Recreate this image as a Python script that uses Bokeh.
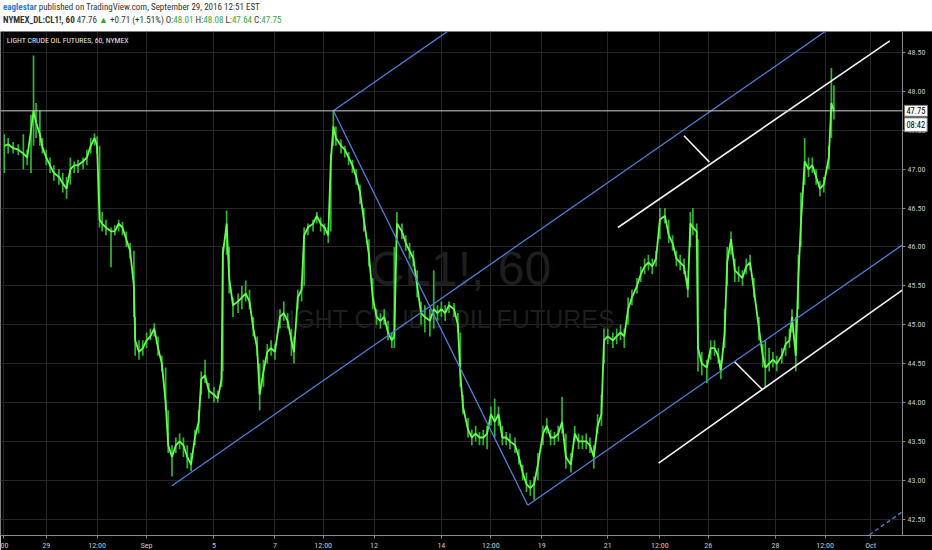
from bokeh.plotting import figure
from bokeh.models import FixedTicker, Span, Label, Div, Range1d, NumeralTickFormatter, BoxAnnotation
from bokeh.layouts import column
from bokeh.embed import file_html
from bokeh.resources import INLINE

# ---------------- data (hourly bar index, prices) ----------------
bar = [3, 6, 10, 14, 18, 21, 24, 26, 28, 31,
       33, 36, 39, 42, 46, 49, 52, 55, 58, 61,
       65, 68, 71, 74, 76, 78, 80, 83, 87, 90,
       93, 96, 99, 102, 105, 106, 109, 112, 115, 118,
       121, 124, 127, 130, 132, 135, 138, 141, 144, 147,
       150, 153, 156, 158, 161, 164, 168, 171, 174, 175,
       178, 180, 183, 187, 190, 193, 196, 199, 202, 204,
       207, 210, 213, 216, 220, 223, 226, 229, 231, 234,
       237, 239, 242, 246, 249, 252, 255, 258, 260, 262,
       264, 268, 271, 274, 277, 280, 283, 286, 290, 293,
       296, 299, 302, 305, 308, 310, 312, 316, 319, 322,
       325, 328, 331, 334, 338, 341, 344, 347, 350, 353,
       357, 360, 362, 364, 368, 371, 374, 377, 380, 383,
       386, 389, 392, 395, 398, 401, 405, 408, 411, 414,
       417, 420, 423, 427, 430, 433, 436, 439, 442, 445,
       449, 452, 455, 458, 461, 464, 467, 470, 473, 475,
       478, 482, 485, 488, 491, 494, 497, 501, 504, 507,
       510, 513, 516, 519, 523, 526, 529, 532, 535, 538,
       541, 543, 545, 548, 549, 552, 556, 559, 562, 565,
       567, 570, 572, 575, 578, 581, 584, 587, 590, 593,
       597, 600, 602, 605, 608, 611, 615, 618, 621, 623,
       626, 628, 630, 633, 636, 639, 642, 645, 648, 652,
       654, 656]

close = [47.30, 47.32, 47.27, 47.25, 47.20, 47.15, 47.50, 47.75, 47.60, 47.45,
         47.28, 47.15, 47.05, 46.95, 46.90, 46.82, 46.75, 47.00, 47.05, 47.05,
         47.10, 47.15, 47.30, 47.40, 47.30, 46.35, 46.30, 46.25, 46.20, 46.20,
         46.30, 46.25, 46.10, 45.95, 45.50, 44.80, 44.65, 44.70, 44.80, 44.85,
         44.95, 44.70, 44.50, 44.00, 43.45, 43.30, 43.45, 43.50, 43.45, 43.30,
         43.20, 43.55, 43.75, 44.30, 44.35, 44.15, 44.10, 44.05, 44.30, 45.90,
         46.30, 45.60, 45.25, 45.30, 45.35, 45.40, 45.30, 44.95, 44.70, 44.10,
         44.40, 44.65, 44.70, 44.65, 45.10, 45.15, 45.05, 44.80, 44.65, 45.35,
         45.45, 46.15, 46.25, 46.30, 46.40, 46.30, 46.25, 46.15, 47.10, 47.55,
         47.40, 47.30, 47.25, 47.15, 47.05, 46.90, 46.70, 46.35, 45.90, 45.35,
         45.10, 45.05, 45.10, 44.90, 44.80, 44.85, 46.30, 46.20, 46.05, 45.95,
         45.85, 45.50, 45.15, 45.10, 45.05, 45.20, 45.15, 45.20, 45.15, 45.25,
         45.20, 45.00, 44.35, 43.95, 43.65, 43.55, 43.60, 43.55, 43.55, 43.60,
         43.85, 43.75, 43.85, 43.55, 43.55, 43.50, 43.45, 43.30, 43.10, 42.95,
         42.90, 42.95, 43.20, 43.60, 43.70, 43.55, 43.55, 43.60, 43.75, 43.30,
         43.20, 43.60, 43.50, 43.50, 43.50, 43.45, 43.30, 43.70, 43.85, 44.80,
         44.85, 44.80, 44.85, 44.90, 44.85, 45.20, 45.35, 45.50, 45.65, 45.75,
         45.80, 45.75, 45.85, 46.35, 46.40, 46.15, 46.05, 45.85, 45.80, 45.75,
         45.45, 46.30, 46.25, 46.20, 44.70, 44.50, 44.45, 44.70, 44.70, 44.60,
         44.40, 44.90, 45.80, 46.10, 45.70, 45.65, 45.60, 45.75, 45.80, 45.45,
         44.95, 44.60, 44.45, 44.50, 44.55, 44.50, 44.60, 44.75, 44.80, 45.10,
         44.60, 45.60, 46.30, 47.10, 47.00, 47.05, 46.90, 46.75, 46.80, 47.15,
         47.85, 47.75]

low = [46.95, 47.20, 47.20, 47.18, 47.00, 47.05, 46.95, 47.30, 47.40, 47.30,
       47.20, 47.05, 46.95, 46.85, 46.80, 46.70, 46.62, 46.80, 46.95, 46.95,
       47.00, 47.05, 47.20, 47.30, 47.20, 46.25, 46.20, 46.15, 45.74, 46.15,
       46.20, 46.15, 46.00, 45.85, 45.10, 44.60, 44.55, 44.60, 44.70, 44.80,
       44.85, 44.60, 44.40, 43.90, 43.35, 43.05, 43.35, 43.40, 43.30, 43.15,
       43.12, 43.45, 43.60, 44.10, 44.25, 44.05, 44.00, 44.00, 44.20, 44.40,
       45.90, 45.40, 45.10, 45.15, 45.20, 45.30, 45.20, 44.85, 44.60, 43.90,
       44.20, 44.50, 44.60, 44.55, 44.95, 45.05, 44.95, 44.60, 44.50, 45.20,
       45.30, 45.50, 46.15, 46.20, 46.30, 46.20, 46.15, 46.05, 46.20, 47.30,
       47.30, 47.20, 47.15, 47.05, 46.95, 46.80, 46.55, 46.20, 45.75, 45.20,
       45.00, 44.95, 45.00, 44.80, 44.70, 44.70, 46.10, 46.10, 45.95, 45.85,
       45.75, 45.35, 45.00, 44.90, 44.85, 44.95, 45.05, 45.10, 45.05, 45.15,
       45.10, 44.90, 44.20, 43.85, 43.55, 43.45, 43.50, 43.45, 43.45, 43.40,
       43.70, 43.55, 43.70, 43.45, 43.45, 43.40, 43.35, 43.20, 43.00, 42.85,
       42.80, 42.75, 43.00, 43.45, 43.60, 43.45, 43.45, 43.50, 43.60, 43.15,
       43.10, 43.50, 43.40, 43.40, 43.40, 43.35, 43.15, 43.60, 43.70, 44.50,
       44.75, 44.70, 44.75, 44.80, 44.70, 45.00, 45.25, 45.40, 45.55, 45.65,
       45.70, 45.65, 45.75, 46.10, 46.30, 46.05, 45.95, 45.75, 45.70, 45.65,
       45.35, 46.00, 46.15, 46.00, 44.40, 44.35, 44.25, 44.55, 44.60, 44.50,
       44.30, 44.70, 45.50, 45.90, 45.55, 45.55, 45.50, 45.65, 45.70, 45.35,
       44.80, 44.45, 44.20, 44.40, 44.45, 44.40, 44.50, 44.60, 44.70, 44.90,
       44.40, 45.20, 46.00, 46.80, 46.90, 46.95, 46.80, 46.65, 46.70, 47.00,
       47.40, 47.64]

high = [47.45, 47.40, 47.35, 47.32, 47.45, 47.25, 47.70, 48.46, 47.85, 47.75,
        47.40, 47.25, 47.15, 47.05, 47.00, 46.95, 46.90, 47.15, 47.10, 47.12,
        47.15, 47.25, 47.40, 47.46, 47.42, 47.30, 46.45, 46.35, 46.25, 46.28,
        46.35, 46.32, 46.20, 46.05, 45.95, 45.10, 44.80, 44.80, 44.90, 44.95,
        45.02, 44.85, 44.60, 44.45, 43.90, 43.45, 43.55, 43.60, 43.55, 43.45,
        43.35, 43.65, 43.90, 44.40, 44.55, 44.25, 44.20, 44.15, 44.40, 46.00,
        46.47, 46.00, 45.35, 45.40, 45.50, 45.57, 45.45, 45.10, 44.85, 44.50,
        44.55, 44.75, 44.80, 44.75, 45.20, 45.30, 45.15, 44.95, 44.85, 45.45,
        45.55, 46.25, 46.30, 46.35, 46.45, 46.38, 46.30, 46.25, 47.20, 47.75,
        47.55, 47.38, 47.30, 47.22, 47.12, 47.00, 46.80, 46.50, 46.10, 45.60,
        45.20, 45.15, 45.20, 45.05, 44.90, 46.00, 46.45, 46.30, 46.15, 46.05,
        45.95, 45.70, 45.30, 45.25, 45.20, 45.70, 45.25, 45.30, 45.25, 45.30,
        45.28, 45.15, 44.90, 44.10, 43.80, 43.65, 43.70, 43.62, 43.65, 43.70,
        43.95, 44.05, 43.95, 43.70, 43.62, 43.60, 43.55, 43.40, 43.20, 43.10,
        43.00, 43.05, 43.35, 43.70, 43.80, 43.65, 43.62, 43.70, 44.07, 43.60,
        43.35, 43.70, 43.60, 43.58, 43.60, 43.55, 43.45, 43.85, 44.10, 44.95,
        44.95, 44.90, 44.95, 45.00, 44.95, 45.35, 45.45, 45.60, 45.75, 45.85,
        45.90, 45.85, 45.95, 46.50, 46.50, 46.35, 46.15, 45.95, 45.90, 45.85,
        45.60, 46.45, 46.50, 46.30, 46.10, 44.65, 44.55, 44.80, 44.80, 44.70,
        44.55, 45.20, 46.00, 46.20, 45.85, 45.75, 45.70, 45.85, 45.90, 45.60,
        45.10, 44.75, 44.80, 44.70, 44.65, 44.60, 44.70, 44.85, 44.95, 45.20,
        45.10, 45.90, 46.70, 47.40, 47.15, 47.15, 47.00, 46.85, 46.90, 47.30,
        48.30, 48.08]

last_price = 47.75
countdown = "08:42"
countdown_level = 47.57

# axes
axis_bar = 710          # time slot where the price scale starts
price_ticks = [42.5, 43.0, 43.5, 44.0, 44.5, 45.0, 45.5, 46.0, 46.5, 47.0, 47.5, 48.0, 48.5]
time_ticks = [2, 36, 76, 115, 168, 216, 254, 294, 347, 386, 426, 478, 519, 557, 610, 649, 685]
time_labels = ["00", "29", "12:00", "Sep", "5", "7", "12:00", "12", "14", "12:00",
               "19", "21", "12:00", "26", "28", "12:00", "Oct"]

# drawings (bar, price)
blue_x0 = [135, 262, 415, 262]
blue_y0 = [42.93, 47.75, 42.68, 47.75]
blue_x1 = [665, 372, 720, 415]
blue_y1 = [48.95, 49.00, 46.14, 42.68]

white_x0 = [486, 518, 538, 578]
white_y0 = [46.25, 43.22, 47.43, 44.52]
white_x1 = [700, 712, 558, 600]
white_y1 = [48.65, 45.47, 47.09, 44.16]

dash_x = [684, 712]
dash_y = [42.30, 42.62]

NARROW = "'Liberation Sans Narrow', 'Roboto Condensed', 'Liberation Sans', sans-serif"

# ---------------- figure ----------------
p = figure(frame_width=932, frame_height=504, x_range=Range1d(0, 733.6), y_range=Range1d(42.29, 48.77),
           output_backend="svg", toolbar_location=None, y_axis_location="right",
           background_fill_color="black", border_fill_color="black",
           min_border_left=0, min_border_top=0, min_border_right=0, min_border_bottom=15,
           outline_line_color=None)

p.xaxis.ticker = FixedTicker(ticks=time_ticks)
p.xaxis.major_label_overrides = {t: l for t, l in zip(time_ticks, time_labels)}
p.yaxis.ticker = FixedTicker(ticks=price_ticks)
p.yaxis.formatter = NumeralTickFormatter(format="0.00")
p.yaxis.fixed_location = axis_bar
for ax in (p.xaxis, p.yaxis):
    ax.axis_line_color = "#8a8a8a"
    ax.major_tick_line_color = "#8a8a8a"
    ax.major_tick_in = 0
    ax.major_tick_out = 3
    ax.minor_tick_line_color = None
    ax.major_label_text_color = "#c8c8c8"
    ax.major_label_text_font = NARROW
    ax.major_label_text_font_size = "8px"
    ax.major_label_standoff = 2

p.xgrid.ticker = FixedTicker(ticks=time_ticks)
p.ygrid.ticker = FixedTicker(ticks=price_ticks)
p.xgrid.grid_line_color = "#262626"
p.ygrid.grid_line_color = "#262626"

# watermark
p.add_layout(Label(x=362, y=45.72, text="CL1!, 60", text_align="center", text_baseline="middle",
                   text_font="Liberation Sans", text_font_size="48px", text_color="#1e1e1e",
                   level="underlay"))
p.add_layout(Label(x=350, y=45.08, text="LIGHT CRUDE OIL FUTURES", text_align="center",
                   text_baseline="middle", text_font="Liberation Sans", text_font_size="25px",
                   text_color="#1e1e1e", level="underlay"))

# price series
p.segment(x0=bar, y0=low, x1=bar, y1=high, line_color="#2fb52f", line_width=1.7)
p.line(bar, close, line_color="#62ff4e", line_width=1.8)

# current price line
p.add_layout(Span(location=last_price, dimension="width", line_color="#d0d0d0", line_width=1,
                  level="glyph"))

# drawings
p.segment(x0=blue_x0, y0=blue_y0, x1=blue_x1, y1=blue_y1, line_color="#4f80d8", line_width=1.3)
p.segment(x0=white_x0, y0=white_y0, x1=white_x1, y1=white_y1, line_color="#f2f2f2", line_width=1.6)
p.line(dash_x, dash_y, line_color="#4f80d8", line_width=1.3, line_dash="4 3")

# price-scale area background (covers grid and drawings to the right of the scale line)
p.add_layout(BoxAnnotation(left=axis_bar, fill_color="black", fill_alpha=1.0, line_color=None,
                           level="glyph"))

# chart title inside
p.add_layout(Label(x=5, y=48.65, text="LIGHT CRUDE OIL FUTURES, 60, NYMEX", text_baseline="middle",
                   text_font=NARROW, text_font_size="7.8px", text_color="#e6e6e6"))

# price tags on the scale
for lvl, txt in ((last_price, "47.75"), (countdown_level, countdown)):
    p.add_layout(Label(x=axis_bar + 1.5, y=lvl, text=txt, text_baseline="middle",
                       text_font=NARROW, text_font_size="8.5px", text_color="black",
                       background_fill_color="white", border_line_color="#777777",
                       padding=2, level="overlay"))

# ---------------- header ----------------
g = "color:#3aa83a"
header_html = (
    f"<div style=\"font-family:{NARROW};font-size:9px;line-height:13px;color:#333;"
    "padding:1px 0 0 3px;white-space:nowrap\">"
    "<span style=\"color:#2b7bd0;font-weight:bold\">eaglestar</span> published on TradingView.com, "
    "September 29, 2016 12:51 EST<br>"
    "<b>NYMEX_DL:CL1!, 60</b> 47.76 <span style=\"color:#2ea82e\">&#9650;</span> +0.71 (+1.51%) "
    f"O:<span style=\"{g}\">48.01</span> H:<span style=\"{g}\">48.08</span> "
    f"L:<span style=\"{g}\">47.64</span> C:<span style=\"{g}\">47.75</span></div>"
)
header = Div(text=header_html, width=932, height=31, margin=0, styles={"background-color": "white"})

layout = column(header, p, spacing=0)

open("out.html", "w").write(file_html(layout, INLINE))
